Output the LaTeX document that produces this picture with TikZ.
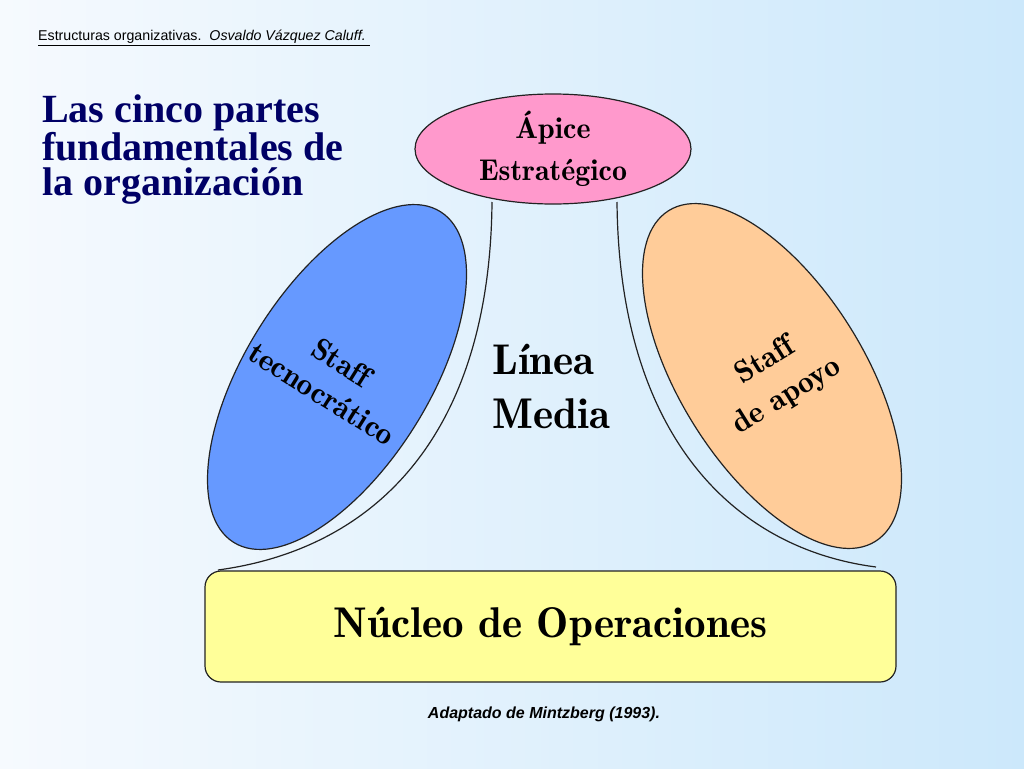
\documentclass[tikz,border=0pt]{standalone}
\usepackage{fontspec}
\newfontfamily\titlefont{Liberation Serif}
\newfontfamily\arialfont{Liberation Sans}
\newfontfamily\partfont[Ligatures=NoCommon]{lmromandemi10-regular.otf}
\usetikzlibrary{shapes.geometric}
\definecolor{bgleft}{HTML}{F6FAFE}
\definecolor{bgright}{HTML}{CCE8FB}
\definecolor{pinkfill}{HTML}{FF99CC}
\definecolor{bluefill}{HTML}{6699FF}
\definecolor{peachfill}{HTML}{FFCC99}
\definecolor{yellowfill}{HTML}{FFFF99}
\definecolor{navy}{HTML}{000066}
\definecolor{outline}{HTML}{222222}
\begin{document}
\begin{tikzpicture}[x=1pt,y=-1pt,
  part/.style={draw=outline, line width=1.2pt, ellipse, inner sep=0pt},
  bigtext/.style={font=\partfont\fontsize{43}{54}\selectfont},
  midtext/.style={font=\partfont\fontsize{30}{42}\selectfont, align=center, inner sep=0pt},
  curve/.style={draw=outline, line width=1.2pt}]
\shade[left color=bgleft, right color=bgright] (0,0) rectangle (1024,768);
\useasboundingbox (0,0) rectangle (1024,768);

% header
\node[anchor=base west, inner sep=0pt, font=\arialfont\fontsize{14.2}{16}\selectfont] (header) at (38,41)
  {\underline{Estructuras organizativas.\ \ \textit{Osvaldo Vázquez Caluff.\ }}};

% title
\node[anchor=north west, inner sep=0pt, align=left, text=navy,
      font=\titlefont\bfseries\fontsize{40}{34.5}\selectfont] (title) at (42,95)
  {Las cinco partes\\fundamentales de\\la organización};

% curves
\coordinate (l1) at (492,202);
\coordinate (l2) at (218,570);
\coordinate (r1) at (617,202);
\coordinate (r2) at (876,567);
\draw[curve] (l1) .. controls (490,430) and (380,548) .. (l2);
\draw[curve] (r1) .. controls (619,430) and (729,548) .. (r2);

% apex
\node[part, fill=pinkfill, minimum width=276pt, minimum height=110pt,
      midtext] (apex) at (553,149) {Ápice\\Estratégico};

% staff ellipses
\node[part, fill=bluefill, minimum width=390pt, minimum height=184pt, rotate=58] (tecno) at (337,377) {};
\node[part, fill=peachfill, minimum width=390pt, minimum height=184pt, rotate=-58] (apoyo) at (772,376) {};
\node[midtext, rotate=-32, font=\partfont\fontsize{31}{37}\selectfont] (tecnotext) at (332,378) {Staff\\tecnocrático};
\node[midtext, rotate=32, font=\partfont\fontsize{31}{41}\selectfont] (apoyotext) at (776,379) {Staff\\de apoyo};

% linea media
\node[bigtext, anchor=west, align=left, inner sep=0pt] (linea) at (492,386) {Línea\\Media};

% nucleo
\node[draw=outline, line width=1.2pt, fill=yellowfill, rounded corners=16pt,
      minimum width=691pt, minimum height=111pt, inner sep=0pt, bigtext] (nucleo) at (550.5,626.5)
  {Núcleo de Operaciones};

% footer
\node[anchor=base, inner sep=0pt, font=\arialfont\bfseries\itshape\fontsize{16}{18}\selectfont] (footer) at (544,718)
  {Adaptado de Mintzberg (1993).};
\end{tikzpicture}
\end{document}
